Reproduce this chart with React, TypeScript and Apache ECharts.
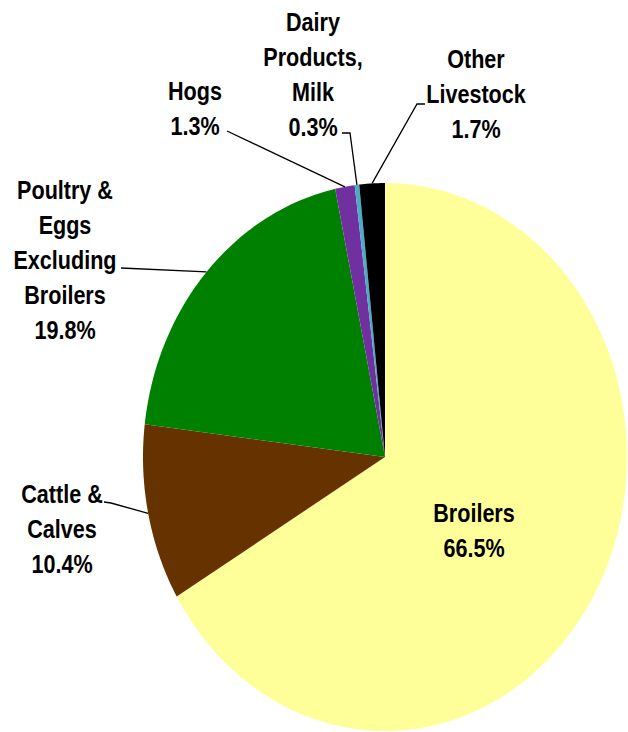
import React, { useEffect, useRef } from "react";
import * as echarts from "echarts";

// ---- data ----
const categories = [
  "Broilers",
  "Cattle &\nCalves",
  "Poultry &\nEggs\nExcluding\nBroilers",
  "Hogs",
  "Dairy\nProducts,\nMilk",
  "Other\nLivestock",
];
const shares = [66.5, 10.4, 19.8, 1.3, 0.3, 1.7];
const colors = ["#FFFF99", "#663300", "#008000", "#7030A0", "#4BACC6", "#000000"];

// ---- layout ----
const CX = 385;
const CY = 457;
const RX = 242;
const RY = 274;
const labelCenters: number[][] = [
  [474, 530],
  [62, 529],
  [65, 260],
  [195, 108],
  [313, 74],
  [476, 94],
];
const leaderStarts: (number[][] | null)[] = [
  null,
  [
    [104, 502],
    [111, 503],
  ],
  [[121, 268]],
  [[227, 131]],
  [
    [342, 133],
    [350, 133],
  ],
  [
    [425, 104],
    [417, 104],
  ],
];
const FONT = "bold 26px 'Liberation Sans', Arial, sans-serif";
const NARROW = 0.83;

export default function App() {
  const ref = useRef<HTMLDivElement>(null);
  useEffect(() => {
    document.body.style.margin = "0";
    const chart = echarts.init(ref.current!, null, { renderer: "svg" });
    const total = shares.reduce((a, b) => a + b, 0);
    chart.setOption({
      animation: false,
      backgroundColor: "#ffffff",
      series: [
        {
          type: "custom",
          coordinateSystem: "none",
          silent: true,
          data: shares.map((v) => [v]),
          renderItem: (params: any, api: any) => {
            const i = params.dataIndex;
            let before = 0;
            for (let k = 0; k < i; k++) before += shares[k];
            const v = api.value(0) as number;
            const a0 = (before / total) * Math.PI * 2;
            const a1 = ((before + v) / total) * Math.PI * 2;
            const pts: number[][] = [[CX, CY]];
            const n = Math.max(2, Math.ceil(((a1 - a0) * 180) / Math.PI));
            for (let j = 0; j <= n; j++) {
              const a = a0 + ((a1 - a0) * j) / n;
              pts.push([CX + RX * Math.sin(a), CY - RY * Math.cos(a)]);
            }
            const children: any[] = [
              {
                type: "polygon",
                shape: { points: pts },
                style: { fill: colors[i], lineWidth: 0 },
              },
            ];
            const mid = (a0 + a1) / 2;
            const edge = [CX + RX * Math.sin(mid), CY - RY * Math.cos(mid)];
            const ls = leaderStarts[i];
            if (ls) {
              children.push({
                type: "polyline",
                shape: { points: [...ls, edge] },
                style: { stroke: "#000000", lineWidth: 1.3, fill: null },
              });
            }
            const lc = labelCenters[i];
            children.push({
              type: "text",
              x: lc[0],
              y: lc[1],
              scaleX: NARROW,
              style: {
                text: `${categories[i]}\n${v.toFixed(1)}%`,
                fill: "#000000",
                font: FONT,
                align: "center",
                verticalAlign: "middle",
                lineHeight: 35,
              },
            });
            return { type: "group", children };
          },
        },
      ],
    });
    return () => chart.dispose();
  }, []);
  return <div ref={ref} style={{ width: 628, height: 732 }} />;
}
